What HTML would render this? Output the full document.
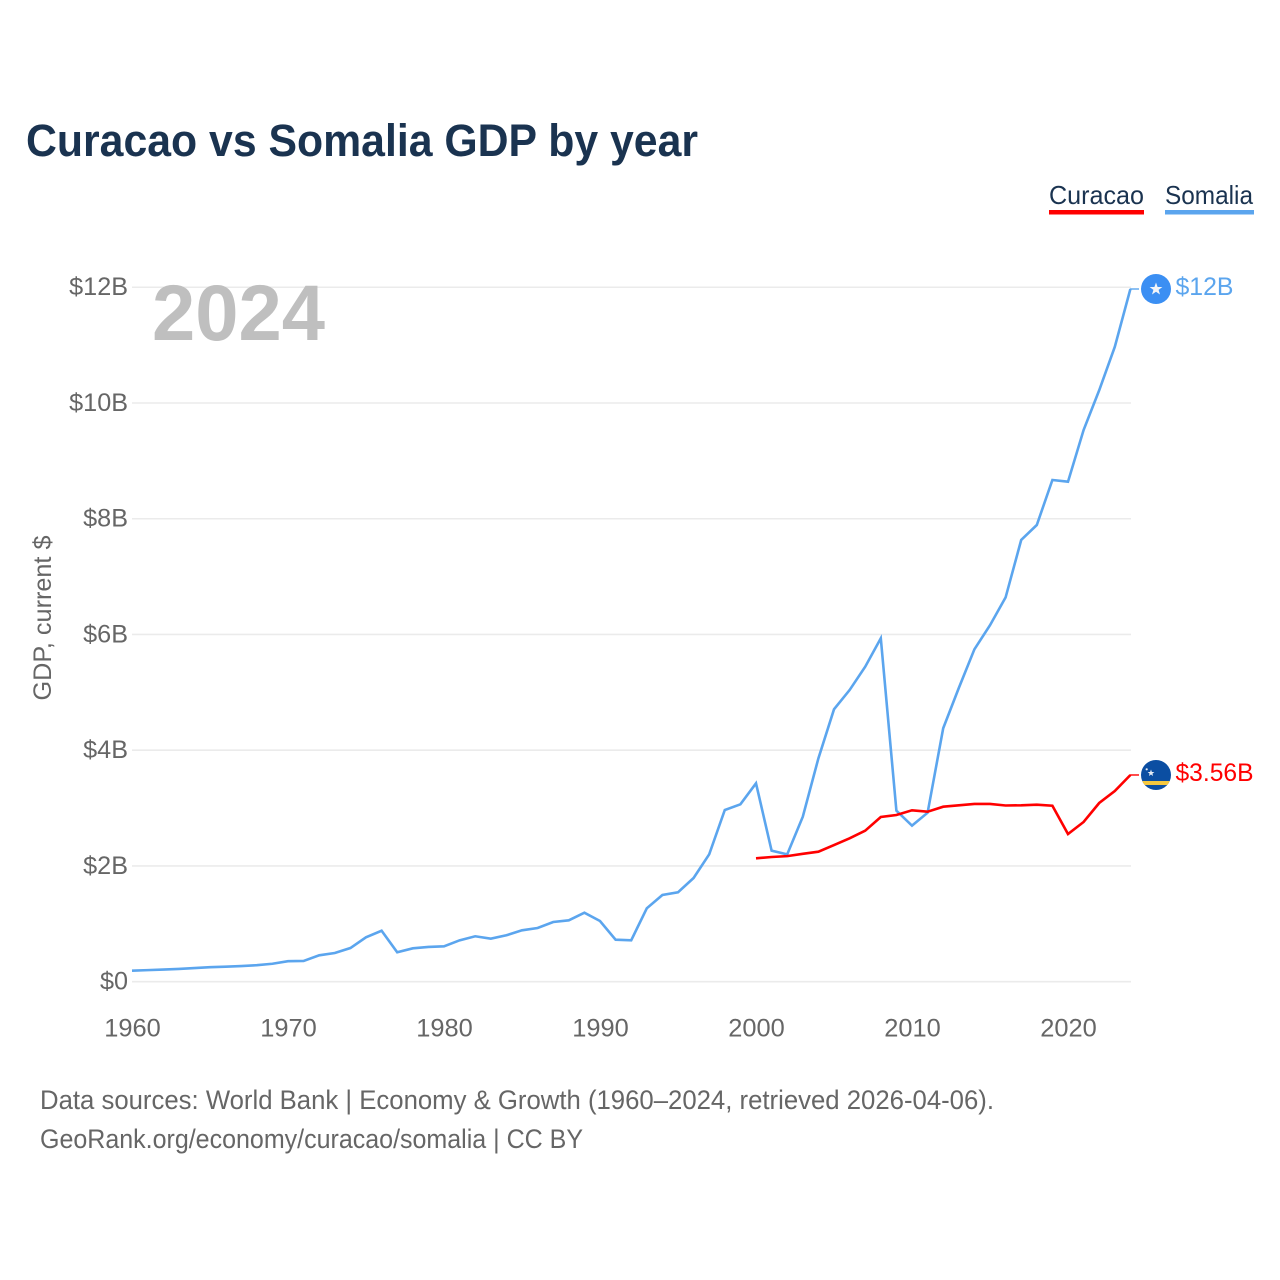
<!DOCTYPE html>
<html lang="en">
<head>
<meta charset="utf-8">
<title>Curacao vs Somalia GDP by year</title>
<style>
html,body{margin:0;padding:0;background:#fff}
svg{display:block}
text{font-family:"Liberation Sans",sans-serif}
</style>
</head>
<body>
<svg id="chart" xmlns="http://www.w3.org/2000/svg" width="1280" height="1280" viewBox="0 0 1280 1280">
  <rect x="0" y="0" width="1280" height="1280" fill="#fff"/>
  <text x="26" y="156" font-size="45" font-weight="700" fill="#1a3350" textLength="672" lengthAdjust="spacingAndGlyphs">Curacao vs Somalia GDP by year</text>
  <g>
    <g>
      <text x="1049" y="204" font-size="26" fill="#1a3350" textLength="95" lengthAdjust="spacingAndGlyphs">Curacao</text>
      <rect x="1049" y="210" width="95" height="4.5" fill="#ff0000"/>
    </g>
    <g>
      <text x="1165" y="204" font-size="26" fill="#1a3350" textLength="88" lengthAdjust="spacingAndGlyphs">Somalia</text>
      <rect x="1165" y="210" width="89" height="4.5" fill="#5ba5ee"/>
    </g>
  </g>
  <g id="grid"></g>
  <text x="152" y="340" font-size="79" font-weight="700" fill="#bfbfbf" textLength="173" lengthAdjust="spacingAndGlyphs">2024</text>
  <g id="yticks"></g>
  <g id="xticks"></g>
  <text transform="translate(51,618) rotate(-90)" text-anchor="middle" font-size="25" fill="#666" textLength="165" lengthAdjust="spacingAndGlyphs">GDP, current $</text>
  <g id="series"></g>
  <g id="ends"></g>
  <text x="40" y="1109" font-size="26.5" fill="#666" textLength="954" lengthAdjust="spacingAndGlyphs">Data sources: World Bank | Economy &amp; Growth (1960–2024, retrieved 2026-04-06).</text>
  <text x="40" y="1148" font-size="26.5" fill="#666" textLength="543" lengthAdjust="spacingAndGlyphs">GeoRank.org/economy/curacao/somalia | CC BY</text>
</svg>
<script>
const yTickValues = [0, 2, 4, 6, 8, 10, 12];
const yTickLabels = ["$0", "$2B", "$4B", "$6B", "$8B", "$10B", "$12B"];
const xTickYears = [1960, 1970, 1980, 1990, 2000, 2010, 2020];
const somaliaStartYear = 1960;
const somaliaValues = [
  0.19, 0.20, 0.21, 0.22, 0.235, 0.25, 0.26, 0.27, 0.285, 0.31,
  0.355, 0.358, 0.456, 0.496, 0.582, 0.767, 0.881, 0.508, 0.577, 0.60,
  0.612, 0.715, 0.785, 0.743, 0.802, 0.888, 0.928, 1.032, 1.061, 1.192,
  1.049, 0.726, 0.715, 1.268, 1.498, 1.545, 1.792, 2.201, 2.967, 3.065,
  3.428, 2.264, 2.201, 2.851, 3.86, 4.707, 5.04, 5.443, 5.934, 2.955,
  2.696, 2.92, 4.379, 5.075, 5.744, 6.16, 6.64, 7.633, 7.892, 8.67,
  8.64, 9.533, 10.22, 10.97, 11.97
];
const curacaoStartYear = 2000;
const curacaoValues = [
  2.132, 2.155, 2.17, 2.21, 2.246, 2.362, 2.478, 2.609, 2.846, 2.881,
  2.962, 2.938, 3.024, 3.048, 3.071, 3.071, 3.045, 3.048, 3.059, 3.041,
  2.552, 2.76, 3.088, 3.295, 3.572
];
const somaliaEndLabel = "$12B";
const curacaoEndLabel = "$3.56B";

const SVG_NS = "http://www.w3.org/2000/svg";
const xScale = year => 132 + (year - 1960) * 15.6;
const yScale = value => 981.7 - value * 57.87;
const plotRight = 1131;
const leaderEnd = 1139;

function make(tag, attrs, parent, content) {
  const el = document.createElementNS(SVG_NS, tag);
  for (const key in attrs) el.setAttribute(key, attrs[key]);
  if (content !== undefined) el.textContent = content;
  parent.appendChild(el);
  return el;
}

const grid = document.getElementById("grid");
const yticks = document.getElementById("yticks");
const xticks = document.getElementById("xticks");
const seriesGroup = document.getElementById("series");
const ends = document.getElementById("ends");

yTickValues.forEach((value, i) => {
  const gridLine = make("line", {x1: 132, x2: plotRight, y1: yScale(value), y2: yScale(value), stroke: "#ebebeb", "stroke-width": 1.6}, grid);
  
  
  const label = make("text", {x: 128, y: yScale(value) + 7.8, "text-anchor": "end", "font-size": 25.2, fill: "#666"}, yticks, yTickLabels[i]);
  
  
});

xTickYears.forEach(year => {
  const label = make("text", {x: xScale(year) + 0.5, y: 1036.5, "text-anchor": "middle", "font-size": 25.4, fill: "#666"}, xticks, String(year));
  
  
});

function linePoints(startYear, values) {
  return values.map((v, i) => xScale(startYear + i).toFixed(2) + "," + yScale(v).toFixed(2));
}

const somaliaLine = make("polyline", {points: linePoints(somaliaStartYear, somaliaValues).join(" "), fill: "none", stroke: "#5ba5ee", "stroke-width": 2.6, "stroke-linejoin": "miter"}, seriesGroup);



const curacaoLine = make("polyline", {points: linePoints(curacaoStartYear, curacaoValues).join(" "), fill: "none", stroke: "#ff0000", "stroke-width": 2.6, "stroke-linejoin": "miter"}, seriesGroup);



const somaliaLastY = yScale(somaliaValues[somaliaValues.length - 1]);
const curacaoLastY = yScale(curacaoValues[curacaoValues.length - 1]);

const somaliaLeader = make("line", {x1: plotRight - 1, x2: leaderEnd, y1: somaliaLastY, y2: somaliaLastY, stroke: "#5ba5ee", "stroke-width": 1.4}, ends);



const curacaoLeader = make("line", {x1: plotRight - 1, x2: leaderEnd, y1: curacaoLastY, y2: curacaoLastY, stroke: "#ff0000", "stroke-width": 1.4}, ends);



/* Somalia end marker */
const somaliaFlag = make("g", {transform: "translate(1156," + somaliaLastY.toFixed(2) + ")"}, ends);


make("circle", {cx: 0, cy: 0, r: 15, fill: "#3b8ff3"}, somaliaFlag);
make("polygon", {points: "0,-6.5 1.6,-2 6.4,-2 2.6,0.9 4,5.5 0,2.8 -4,5.5 -2.6,0.9 -6.4,-2 -1.6,-2", fill: "#f2f5f8"}, somaliaFlag);
const somaliaValueLabel = make("text", {x: 1175.5, y: somaliaLastY + 6, "font-size": 25.2, fill: "#5ba5ee", textLength: 58, lengthAdjust: "spacingAndGlyphs"}, ends, somaliaEndLabel);



/* Curacao end marker */
const curacaoFlag = make("g", {transform: "translate(1156," + curacaoLastY.toFixed(2) + ")"}, ends);


make("clipPath", {id: "cw-clip"}, curacaoFlag);
make("circle", {cx: 0, cy: 0, r: 15}, curacaoFlag.lastChild);
const cwInner = make("g", {"clip-path": "url(#cw-clip)"}, curacaoFlag);
make("rect", {x: -15, y: -15, width: 30, height: 30, fill: "#0b4ea2"}, cwInner);
make("rect", {x: -15, y: 6, width: 30, height: 4, fill: "#f5c83f"}, cwInner);
make("polygon", {points: "-5,-5.5 -4.1,-3 -1.6,-3 -3.6,-1.4 -2.9,1 -5,-0.5 -7.1,1 -6.4,-1.4 -8.4,-3 -5.9,-3", fill: "#e8eef6"}, cwInner);
make("circle", {cx: -9.3, cy: -5.7, r: 1.1, fill: "#e8eef6"}, cwInner);
const curacaoValueLabel = make("text", {x: 1175.5, y: curacaoLastY + 6, "font-size": 25.2, fill: "#ff0000", textLength: 78, lengthAdjust: "spacingAndGlyphs"}, ends, curacaoEndLabel);


</script>
</body>
</html>
